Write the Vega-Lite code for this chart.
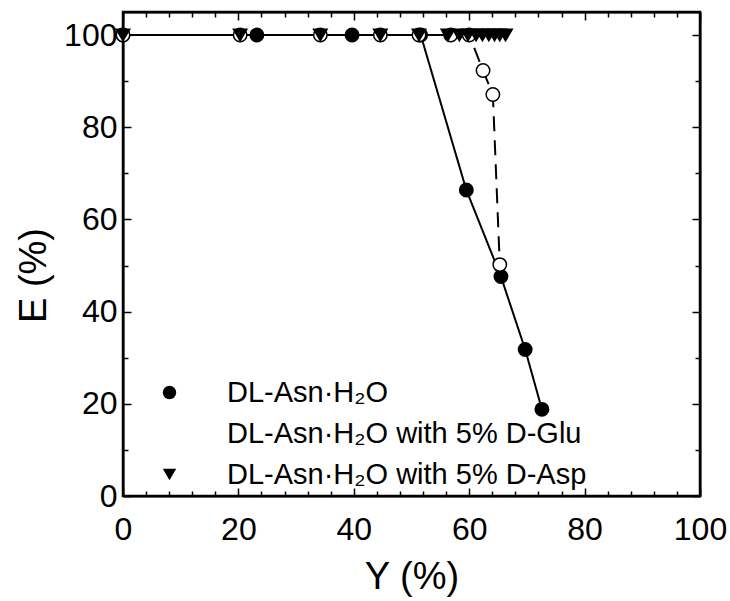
{
  "$schema": "https://vega.github.io/schema/vega-lite/v6.json",
  "width": 577,
  "height": 484,
  "autosize": "none",
  "padding": {"left": 123, "top": 12, "right": 30, "bottom": 105},
  "background": "white",
  "config": {
    "view": {"stroke": "black", "strokeWidth": 2.5},
    "font": "Liberation Sans",
    "axis": {
      "grid": false,
      "domainColor": "black",
      "domainWidth": 2,
      "tickColor": "black",
      "tickWidth": 1.5,
      "labelColor": "black",
      "labelFont": "Liberation Sans",
      "labelFontSize": 32,
      "titleFont": "Liberation Sans",
      "titleFontSize": 38,
      "titleFontWeight": "normal",
      "titleColor": "black",
      "labelFlush": false,
      "labelOverlap": false
    },
    "legend": {
      "labelFont": "Liberation Sans",
      "labelFontSize": 29,
      "labelColor": "black",
      "labelLimit": 600,
      "symbolSize": 180,
      "symbolStrokeWidth": 1.5,
      "symbolStrokeColor": "black",
      "rowPadding": 11,
      "labelOffset": 43,
      "padding": 0
    }
  },
  "data": {
    "values": [
      {"s": "DL-Asn·H₂O", "x": 0, "y": 100},
      {"s": "DL-Asn·H₂O", "x": 23.2, "y": 100},
      {"s": "DL-Asn·H₂O", "x": 39.7, "y": 100},
      {"s": "DL-Asn·H₂O", "x": 51.6, "y": 100},
      {"s": "DL-Asn·H₂O", "x": 59.5, "y": 66.4},
      {"s": "DL-Asn·H₂O", "x": 65.5, "y": 47.6},
      {"s": "DL-Asn·H₂O", "x": 69.7, "y": 31.8},
      {"s": "DL-Asn·H₂O", "x": 72.6, "y": 18.8},
      {"s": "DL-Asn·H₂O with 5% D-Glu", "x": 0, "y": 100},
      {"s": "DL-Asn·H₂O with 5% D-Glu", "x": 20.3, "y": 100},
      {"s": "DL-Asn·H₂O with 5% D-Glu", "x": 34.2, "y": 100},
      {"s": "DL-Asn·H₂O with 5% D-Glu", "x": 44.6, "y": 100},
      {"s": "DL-Asn·H₂O with 5% D-Glu", "x": 51.3, "y": 100},
      {"s": "DL-Asn·H₂O with 5% D-Glu", "x": 56.8, "y": 100},
      {"s": "DL-Asn·H₂O with 5% D-Glu", "x": 60.0, "y": 100},
      {"s": "DL-Asn·H₂O with 5% D-Glu", "x": 62.4, "y": 92.3},
      {"s": "DL-Asn·H₂O with 5% D-Glu", "x": 64.1, "y": 87.1},
      {"s": "DL-Asn·H₂O with 5% D-Glu", "x": 65.3, "y": 50.2},
      {"s": "DL-Asn·H₂O with 5% D-Asp", "x": 0, "y": 100},
      {"s": "DL-Asn·H₂O with 5% D-Asp", "x": 20.3, "y": 100},
      {"s": "DL-Asn·H₂O with 5% D-Asp", "x": 34.2, "y": 100},
      {"s": "DL-Asn·H₂O with 5% D-Asp", "x": 44.6, "y": 100},
      {"s": "DL-Asn·H₂O with 5% D-Asp", "x": 51.3, "y": 100},
      {"s": "DL-Asn·H₂O with 5% D-Asp", "x": 56.3, "y": 100},
      {"s": "DL-Asn·H₂O with 5% D-Asp", "x": 58.3, "y": 100},
      {"s": "DL-Asn·H₂O with 5% D-Asp", "x": 59.8, "y": 100},
      {"s": "DL-Asn·H₂O with 5% D-Asp", "x": 61.2, "y": 100},
      {"s": "DL-Asn·H₂O with 5% D-Asp", "x": 62.3, "y": 100},
      {"s": "DL-Asn·H₂O with 5% D-Asp", "x": 63.4, "y": 100},
      {"s": "DL-Asn·H₂O with 5% D-Asp", "x": 64.4, "y": 100},
      {"s": "DL-Asn·H₂O with 5% D-Asp", "x": 65.3, "y": 100},
      {"s": "DL-Asn·H₂O with 5% D-Asp", "x": 66.3, "y": 100}
    ]
  },
  "resolve": {"axis": {"x": "independent", "y": "independent"}},
  "layer": [
    {
      "mark": {"type": "line", "color": "black"},
      "encoding": {
        "x": {
          "field": "x", "type": "quantitative",
          "scale": {"domain": [0, 100], "nice": false, "zero": false},
          "axis": {
            "orient": "bottom",
            "title": "Y (%)",
            "values": [0,4,8,12,16,20,24,28,32,36,40,44,48,52,56,60,64,68,72,76,80,84,88,92,96,100],
            "labelExpr": "datum.value % 20 === 0 ? datum.label : ''",
            "tickSize": {"condition": {"test": "datum.value % 20 === 0", "value": -8}, "value": -5},
            "labelPadding": 26,
            "titlePadding": 10
          }
        },
        "y": {
          "field": "y", "type": "quantitative",
          "scale": {"domain": [0, 105], "nice": false, "zero": false},
          "axis": {
            "orient": "left",
            "title": "E (%)",
            "titleY": 263,
            "values": [0,10,20,30,40,50,60,70,80,90,100],
            "labelExpr": "datum.value % 20 === 0 ? datum.label : ''",
            "tickSize": {"condition": {"test": "datum.value % 20 === 0", "value": -8}, "value": -5},
            "labelPadding": 14,
            "titlePadding": 10
          }
        },
        "detail": {"field": "s"},
        "strokeDash": {
          "field": "s", "type": "nominal",
          "scale": {"domain": ["DL-Asn·H₂O", "DL-Asn·H₂O with 5% D-Glu", "DL-Asn·H₂O with 5% D-Asp"], "range": [[1, 0], [15, 9], [12, 5, 3, 5]]},
          "legend": {"title": null, "orient": "none", "legendX": 32, "legendY": 366, "symbolStrokeColor": "black", "symbolStrokeWidth": 1.5, "symbolSize": 180, "labelOffset": 43, "rowPadding": 11, "labelFontSize": 29, "padding": 0}
        },
        "strokeWidth": {
          "field": "s", "type": "nominal",
          "scale": {"domain": ["DL-Asn·H₂O", "DL-Asn·H₂O with 5% D-Glu", "DL-Asn·H₂O with 5% D-Asp"], "range": [2, 2, 1]},
          "legend": {"title": null, "orient": "none", "legendX": 32, "legendY": 366, "symbolStrokeColor": "black", "symbolStrokeWidth": 1.5, "symbolSize": 180, "labelOffset": 43, "rowPadding": 11, "labelFontSize": 29, "padding": 0}
        }
      }
    },
    {
      "mark": {"type": "point", "stroke": "black", "strokeWidth": 1.5, "size": 180, "opacity": 1},
      "encoding": {
        "x": {
          "field": "x", "type": "quantitative",
          "axis": {
            "orient": "top", "title": null, "labels": false,
            "values": [0,4,8,12,16,20,24,28,32,36,40,44,48,52,56,60,64,68,72,76,80,84,88,92,96,100],
            "tickSize": {"condition": {"test": "datum.value % 20 === 0", "value": -8}, "value": -5}
          }
        },
        "y": {
          "field": "y", "type": "quantitative",
          "axis": {
            "orient": "right", "title": null, "labels": false,
            "values": [0,10,20,30,40,50,60,70,80,90,100],
            "tickSize": {"condition": {"test": "datum.value % 20 === 0", "value": -8}, "value": -5}
          }
        },
        "fill": {
          "field": "s", "type": "nominal",
          "scale": {"domain": ["DL-Asn·H₂O", "DL-Asn·H₂O with 5% D-Glu", "DL-Asn·H₂O with 5% D-Asp"], "range": ["black", "white", "black"]},
          "legend": {"title": null, "orient": "none", "legendX": 32, "legendY": 366, "symbolStrokeColor": "black", "symbolStrokeWidth": 1.5, "symbolSize": 180, "labelOffset": 43, "rowPadding": 11, "labelFontSize": 29, "padding": 0}
        },
        "shape": {
          "field": "s", "type": "nominal",
          "scale": {"domain": ["DL-Asn·H₂O", "DL-Asn·H₂O with 5% D-Glu", "DL-Asn·H₂O with 5% D-Asp"], "range": ["circle", "circle", "triangle-down"]},
          "legend": {"title": null, "orient": "none", "legendX": 32, "legendY": 366, "symbolStrokeColor": "black", "symbolStrokeWidth": 1.5, "symbolSize": 180, "labelOffset": 43, "rowPadding": 11, "labelFontSize": 29, "padding": 0}
        }
      }
    }
  ]
}
